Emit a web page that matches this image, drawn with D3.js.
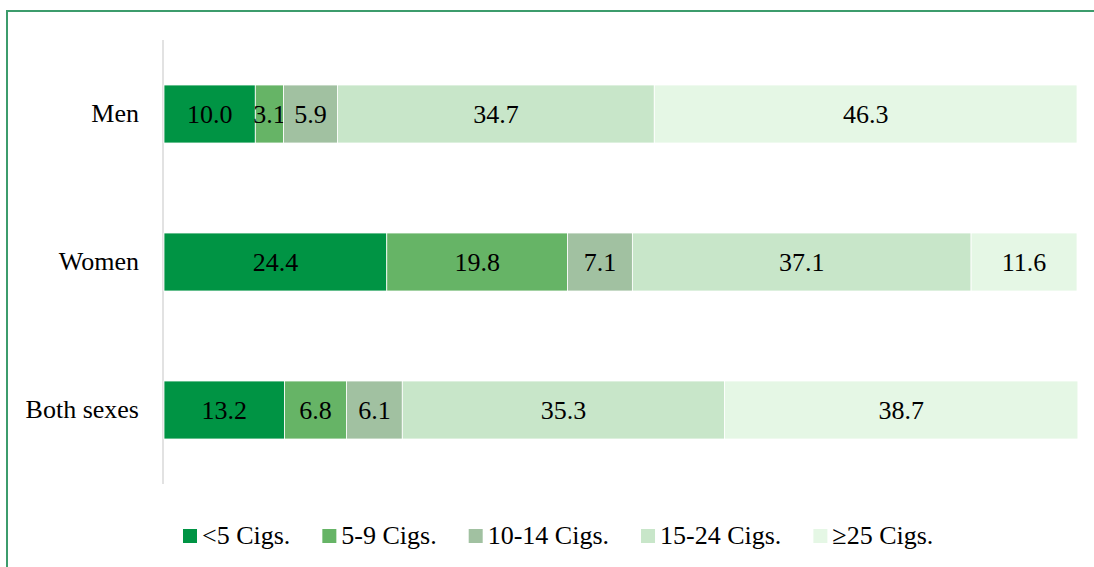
<!DOCTYPE html>
<html>
<head>
<meta charset="utf-8">
<script src="https://cdn.jsdelivr.net/npm/d3@7"></script>
</head>
<body style="margin:0">
<svg id="chart" width="1094" height="567" style="display:block"></svg>
<script>
// Share of smokers by daily cigarette count, per sex (%)
const groups = ["Men", "Women", "Both sexes"];
const seriesNames = ["<5 Cigs.", "5-9 Cigs.", "10-14 Cigs.", "15-24 Cigs.", "\u226525 Cigs."];
const lt5 = [10.0, 24.4, 13.2];
const c5to9 = [3.1, 19.8, 6.8];
const c10to14 = [5.9, 7.1, 6.1];
const c15to24 = [34.7, 37.1, 35.3];
const ge25 = [46.3, 11.6, 38.7];
const colors = ["#009444", "#66b466", "#a1c1a1", "#c8e6c9", "#e5f7e5"];

const FONT = '"Liberation Serif", monospace';

const seriesValues = [lt5, c5to9, c10to14, c15to24, ge25];
const rows = groups.map((g, i) => {
  const r = { group: g };
  seriesNames.forEach((s, k) => { r[s] = seriesValues[k][i]; });
  return r;
});

const svg = d3.select("#chart");

// outer frame
svg.append("rect")
  .attr("x", 7).attr("y", 11)
  .attr("width", 1200).attr("height", 700)
  .attr("fill", "none")
  .attr("stroke", "#3c9c6c")
  .attr("stroke-width", 2);

const x = d3.scaleLinear().domain([0, 100]).range([164, 1077]);
const y = d3.scaleBand().domain(groups).range([40, 484]).paddingInner(0.608).paddingOuter(0.304);

const layers = d3.stack().keys(seriesNames)(rows);

// category axis line
svg.append("line")
  .attr("x1", 163).attr("x2", 163)
  .attr("y1", 40).attr("y2", 484)
  .attr("stroke", "#d9d9d9")
  .attr("stroke-width", 1.5);

const layerG = svg.selectAll("g.layer")
  .data(layers)
  .join("g")
  .attr("class", "layer")
  .attr("fill", (d, i) => colors[i]);

layerG.selectAll("rect")
  .data(d => d)
  .join("rect")
  .attr("x", d => x(d[0]))
  .attr("y", d => y(d.data.group))
  .attr("width", d => x(d[1]) - x(d[0]))
  .attr("height", y.bandwidth())
  .attr("stroke", "#ffffff")
  .attr("stroke-width", 0.8);

layerG.selectAll("text")
  .data(d => d.map(v => ({ v, key: d.key })))
  .join("text")
  .attr("x", d => (x(d.v[0]) + x(d.v[1])) / 2)
  .attr("y", d => y(d.v.data.group) + y.bandwidth() / 2 + 9)
  .attr("text-anchor", "middle")
  .attr("fill", "#000000")
  .style("font-family", FONT)
  .attr("font-size", 26)
  .text(d => d.v.data[d.key].toFixed(1));

// category labels
const yAxis = d3.axisLeft(y).tickSize(0).tickPadding(24);
const yg = svg.append("g").attr("transform", "translate(163,0)").call(yAxis);
yg.select(".domain").remove();
yg.selectAll("text")
  .style("font-family", FONT)
  .attr("font-size", 26)
  .attr("fill", "#000000");

// legend: swatch + label, laid out left to right
const legend = svg.append("g").attr("transform", "translate(183,0)");
const item = legend.selectAll("g")
  .data(seriesNames)
  .join("g");
item.append("rect")
  .attr("x", 0).attr("y", 529)
  .attr("width", 14).attr("height", 14)
  .attr("fill", (d, i) => colors[i]);
item.append("text")
  .attr("x", 19).attr("y", 544)
  .style("font-family", FONT)
  .attr("font-size", 26)
  .attr("fill", "#000000")
  .text(d => d);
// Liberation Serif advance widths (em) for the legend glyphs
const adv = { "<": 0.564, "5": 0.5, " ": 0.25, "C": 0.667, "i": 0.278, "g": 0.5, "s": 0.389, ".": 0.25,
  "-": 0.333, "9": 0.5, "1": 0.5, "0": 0.5, "4": 0.5, "2": 0.5, "\u2265": 0.549 };
let lx = 0;
item.each(function (d) {
  d3.select(this).attr("transform", `translate(${lx},0)`);
  const w = d3.sum(Array.from(d), ch => adv[ch] || 0.5) * 26;
  lx += 19 + w + 32;
});
</script>
</body>
</html>
